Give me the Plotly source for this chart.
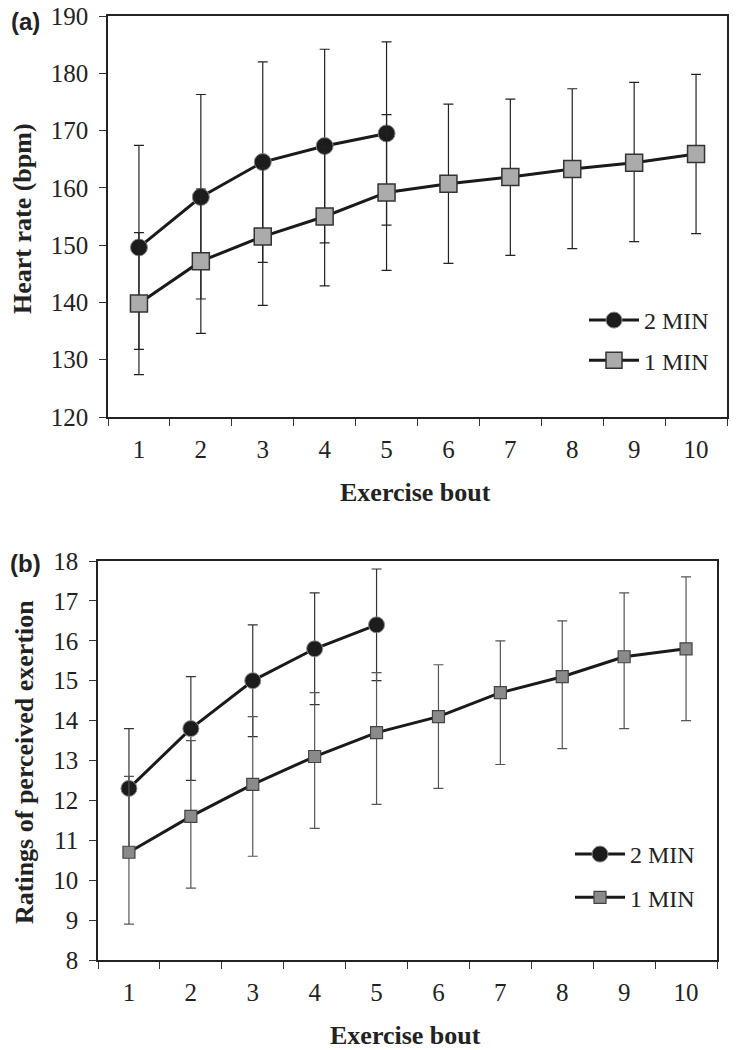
import numpy as np
import plotly.graph_objects as go

# ---------------- data ----------------
bouts_2min = [1, 2, 3, 4, 5]
bouts_1min = [1, 2, 3, 4, 5, 6, 7, 8, 9, 10]

# (a) Heart rate (bpm): mean, upper and lower end of error bar
hr_2min = [149.6, 158.4, 164.5, 167.3, 169.5]
hr_2min_hi = [167.4, 176.3, 182.0, 184.2, 185.5]
hr_2min_lo = [131.8, 140.6, 147.0, 150.4, 153.5]

hr_1min = [139.8, 147.2, 151.5, 155.0, 159.2, 160.7, 161.9, 163.3, 164.4, 165.9]
hr_1min_hi = [152.2, 159.8, 163.5, 167.1, 172.8, 174.6, 175.5, 177.3, 178.4, 179.8]
hr_1min_lo = [127.4, 134.6, 139.5, 142.9, 145.6, 146.8, 148.2, 149.4, 150.6, 152.0]

# (b) Ratings of perceived exertion
rpe_2min = [12.3, 13.8, 15.0, 15.8, 16.4]
rpe_2min_hi = [13.8, 15.1, 16.4, 17.2, 17.8]
rpe_2min_lo = [10.8, 12.5, 13.6, 14.4, 15.0]

rpe_1min = [10.7, 11.6, 12.4, 13.1, 13.7, 14.1, 14.7, 15.1, 15.6, 15.8]
rpe_1min_hi = [12.6, 13.5, 14.1, 14.7, 15.2, 15.4, 16.0, 16.5, 17.2, 17.6]
rpe_1min_lo = [8.9, 9.8, 10.6, 11.3, 11.9, 12.3, 12.9, 13.3, 13.8, 14.0]

series_names = ["2 MIN", "1 MIN"]
x_tick_labels = [str(i) for i in range(1, 11)]
hr_ticks = [120, 130, 140, 150, 160, 170, 180, 190]
rpe_ticks = [8, 9, 10, 11, 12, 13, 14, 15, 16, 17, 18]

# ---------------- layout helpers ----------------
W, H = 736, 1050
def px(x):
    return x / W
def py(y):
    return 1 - y / H

SERIF = "Liberation Serif, Times New Roman, serif"
SANS = "Liberation Sans, Arial, sans-serif"
INK = "#1a1a1a"

def err(mean, hi, lo):
    m = np.array(mean)
    return dict(type="data", symmetric=False,
                array=list(np.array(hi) - m), arrayminus=list(m - np.array(lo)))

fig = go.Figure()

# ---- panel (a) ----
fig.add_trace(go.Scatter(
    x=bouts_2min, y=hr_2min, name=series_names[0], mode="lines+markers",
    line=dict(color=INK, width=3),
    marker=dict(symbol="circle", size=17, color="#1c1c1c", line=dict(color="#8a8a8a", width=1)),
    error_y=dict(**err(hr_2min, hr_2min_hi, hr_2min_lo), color="#222222", thickness=1.2, width=5),
    xaxis="x", yaxis="y", legend="legend", legendgroup="a2"))
fig.add_trace(go.Scatter(
    x=bouts_1min, y=hr_1min, name=series_names[1], mode="lines+markers",
    line=dict(color=INK, width=3),
    marker=dict(symbol="square", size=17, color="#ababab", line=dict(color="#333333", width=1.5)),
    error_y=dict(**err(hr_1min, hr_1min_hi, hr_1min_lo), color="#222222", thickness=1.2, width=5),
    xaxis="x", yaxis="y", legend="legend", legendgroup="a1"))

# ---- panel (b) ----
fig.add_trace(go.Scatter(
    x=bouts_2min, y=rpe_2min, name=series_names[0], mode="lines+markers",
    line=dict(color=INK, width=3),
    marker=dict(symbol="circle", size=16, color="#1c1c1c", line=dict(color="#8a8a8a", width=1)),
    error_y=dict(**err(rpe_2min, rpe_2min_hi, rpe_2min_lo), color="#333333", thickness=1.2, width=5),
    xaxis="x2", yaxis="y2", legend="legend2", legendgroup="b2"))
fig.add_trace(go.Scatter(
    x=bouts_1min, y=rpe_1min, name=series_names[1], mode="lines+markers",
    line=dict(color=INK, width=3),
    marker=dict(symbol="square", size=12, color="#8a8a8a", line=dict(color="#444444", width=1.2)),
    error_y=dict(**err(rpe_1min, rpe_1min_hi, rpe_1min_lo), color="#555555", thickness=1.2, width=5),
    xaxis="x2", yaxis="y2", legend="legend2", legendgroup="b1"))

tickfont = dict(family=SERIF, size=25, color="#222222")

def xaxis_cfg(domain, anchor):
    return dict(domain=domain, anchor=anchor, range=[0.5, 10.5], automargin=False,
                tickmode="array", tickvals=list(range(1, 11)), ticktext=x_tick_labels,
                ticks="outside", ticklen=9, tickcolor="rgba(0,0,0,0)",
                minor=dict(tickmode="array", tickvals=[i + 0.5 for i in range(0, 11)],
                           ticks="outside", ticklen=7, tickwidth=1, tickcolor="#333333"),
                showline=True, linecolor="#222222", linewidth=1.5, mirror=True,
                showgrid=False, zeroline=False, tickfont=tickfont, fixedrange=True)

def yaxis_cfg(domain, anchor, rng, ticks):
    return dict(domain=domain, anchor=anchor, range=rng, automargin=False,
                tickmode="array", tickvals=ticks,
                ticks="outside", ticklen=7, tickwidth=1, tickcolor="#333333",
                ticklabelstandoff=6,
                showline=True, linecolor="#222222", linewidth=1.5, mirror=True,
                showgrid=False, zeroline=False, tickfont=tickfont, fixedrange=True)

legend_common = dict(font=dict(family=SERIF, size=24, color="#222222"),
                     bgcolor="rgba(0,0,0,0)", borderwidth=0, itemwidth=50,
                     xanchor="left", yanchor="top")

ann_font = dict(family=SERIF, size=26, color="#222222")
def ann(text, x, y, angle=0, font=ann_font):
    return dict(text=text, textangle=angle, x=px(x), y=py(y), xref="paper", yref="paper",
                xanchor="center", yanchor="middle", showarrow=False, font=font)

fig.update_layout(
    width=W, height=H,
    margin=dict(l=0, r=0, t=0, b=0, pad=0, autoexpand=False),
    paper_bgcolor="white", plot_bgcolor="white",
    showlegend=True,
    xaxis=xaxis_cfg([px(108), px(727)], "y"),
    yaxis=yaxis_cfg([py(417), py(16)], "x", [120, 190], hr_ticks),
    xaxis2=xaxis_cfg([px(98), px(717)], "y2"),
    yaxis2=yaxis_cfg([py(960), py(561)], "x2", [8, 18], rpe_ticks),
    legend=dict(x=px(584), y=py(298), tracegroupgap=6, **legend_common),
    legend2=dict(x=px(570), y=py(832), tracegroupgap=9, **legend_common),
    annotations=[
        ann("<b>Heart rate (bpm)</b>", 22, 219, -90),
        ann("<b>Exercise bout</b>", 415, 492),
        ann("<b>Ratings of perceived exertion</b>", 24, 762, -90),
        ann("<b>Exercise bout</b>", 406, 1035),
        ann("<b>(a)</b>", 25, 21, 0, dict(family=SANS, size=24, color="#222222")),
        ann("<b>(b)</b>", 26, 563, 0, dict(family=SANS, size=24, color="#222222")),
    ],
)

fig.write_html("out.html", include_plotlyjs=True, config={"displayModeBar": False},
               post_script="document.body.style.margin='0';")
